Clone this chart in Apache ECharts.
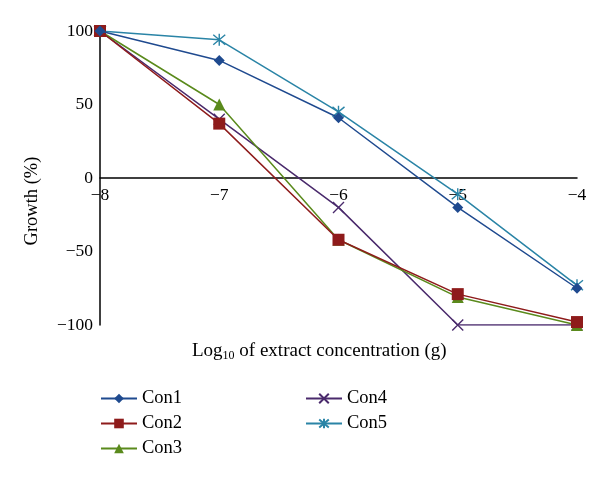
<!DOCTYPE html>
<html><head><meta charset="utf-8">
<script src="https://cdn.jsdelivr.net/npm/echarts@6/dist/echarts.min.js"></script>
<style>html,body{margin:0;padding:0;background:#fff}#c{width:600px;height:477px}</style>
</head><body><div id="c"></div>
<script>
var xValues = [-8, -7, -6, -5, -4];
var seriesNames = ['Con1', 'Con2', 'Con3', 'Con4', 'Con5'];
var con1 = [100, 80, 41, -20, -75];
var con2 = [100, 37, -42, -79, -98];
var con3 = [100, 50, -42, -81, -100];
var con4 = [100, 40, -20, -100, -100];
var con5 = [100, 94, 45, -11, -73];
var yTicks = [-100, -50, 0, 50, 100];

var values = [con1, con2, con3, con4, con5];
var colors = ['#1f4a8f', '#8e1b1b', '#5a8a1c', '#4a2a6c', '#2a84a6'];
var symbols = ['diamond', 'rect', 'triangle',
  'path://M0,0L10,10M10,0L0,10',
  'path://M0,0L10,10M10,0L0,10M5,-1L5,11'];
var sizes = [11, 12, 12, 11, 12];
var FONT = '"Liberation Serif", "Times New Roman", serif';
var minus = function (v) { return String(v).replace('-', '\u2212'); };

var series = seriesNames.map(function (n, i) {
  return {
    name: n, type: 'line',
    data: xValues.map(function (x, j) { return [x, values[i][j]]; }),
    symbol: symbols[i], symbolSize: sizes[i],
    showAllSymbol: true,
    lineStyle: { color: colors[i], width: 1.5 },
    itemStyle: { color: colors[i], borderColor: colors[i], borderWidth: i >= 3 ? 1.4 : 0 },
    z: 10 - i
  };
});

var chart = echarts.init(document.getElementById('c'), null, { renderer: 'canvas' });
chart.setOption({
  animation: false,
  backgroundColor: '#fff',
  grid: { left: 100, right: 23, top: 31, bottom: 152 },
  xAxis: {
    type: 'value', min: -8, max: -4, interval: 1, offset: -147,
    axisLine: { onZero: false, lineStyle: { color: '#000', width: 1.5 } },
    axisTick: { show: false }, splitLine: { show: false },
    axisLabel: { formatter: minus, color: '#000', fontFamily: FONT, fontSize: 17.5, margin: 8 }
  },
  yAxis: {
    type: 'value', min: -100, max: 100, interval: 50,
    axisLine: { show: true, onZero: false, lineStyle: { color: '#000', width: 1.5 } },
    axisTick: { show: false }, splitLine: { show: false },
    axisLabel: { formatter: minus, color: '#000', fontFamily: FONT, fontSize: 17.5, margin: 7 }
  },
  legend: [
    { data: ['Con1', 'Con2', 'Con3'], orient: 'vertical', left: 95, top: 384, itemGap: 6,
      itemWidth: 36, itemHeight: 12, textStyle: { fontFamily: FONT, fontSize: 18.5, color: '#000' } },
    { data: ['Con4', 'Con5'], orient: 'vertical', left: 300, top: 384, itemGap: 6,
      itemWidth: 36, itemHeight: 12, textStyle: { fontFamily: FONT, fontSize: 18.5, color: '#000' } }
  ],
  graphic: [
    { type: 'text', x: 192, top: 342, style: {
      text: '{a|Log}{s|10}{a| of extract concentration (g)}',
      rich: { a: { fontFamily: FONT, fontSize: 19, fill: '#000' },
              s: { fontFamily: FONT, fontSize: 12, fill: '#000', verticalAlign: 'bottom', padding: [9, 0, 0, 0] } } } },
    { type: 'text', x: 32, y: 201, rotation: Math.PI / 2, style: {
      text: 'Growth (%)', fontFamily: FONT, fontSize: 18.5, fill: '#000', align: 'center', verticalAlign: 'middle' } }
  ],
  series: series
});
</script></body></html>
